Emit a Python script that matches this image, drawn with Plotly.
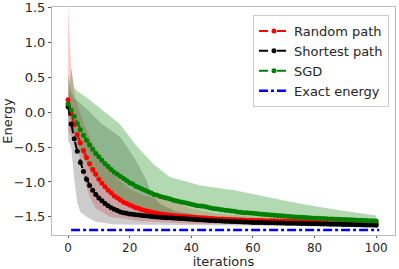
import plotly.graph_objects as go

iterations = list(range(0, 101))

random_path = [0.18, -0.02, -0.18, -0.32, -0.44, -0.55, -0.65, -0.74, -0.82, -0.89,
               -0.96, -1.02, -1.07, -1.12, -1.16, -1.20, -1.23, -1.26, -1.29, -1.31,
               -1.33, -1.35, -1.37, -1.38, -1.40, -1.41, -1.42, -1.43, -1.44, -1.45,
               -1.46, -1.465, -1.47, -1.475, -1.48, -1.485, -1.49, -1.493, -1.496, -1.50,
               -1.503, -1.506, -1.509, -1.512, -1.515, -1.518, -1.521, -1.524, -1.527, -1.53,
               -1.532, -1.534, -1.536, -1.538, -1.54, -1.542, -1.544, -1.546, -1.548, -1.55,
               -1.551, -1.552, -1.553, -1.554, -1.555, -1.556, -1.557, -1.558, -1.559, -1.56,
               -1.561, -1.562, -1.563, -1.564, -1.565, -1.567, -1.568, -1.569, -1.57, -1.571,
               -1.572, -1.573, -1.574, -1.575, -1.576, -1.577, -1.578, -1.579, -1.58, -1.581,
               -1.582, -1.583, -1.584, -1.585, -1.586, -1.587, -1.588, -1.589, -1.59, -1.59,
               -1.59]

shortest_path = [0.08, -0.17, -0.38, -0.56, -0.72, -0.85, -0.96, -1.05, -1.12, -1.18,
                 -1.23, -1.27, -1.31, -1.34, -1.37, -1.39, -1.41, -1.43, -1.44, -1.45,
                 -1.46, -1.465, -1.47, -1.475, -1.48, -1.485, -1.49, -1.495, -1.50, -1.503,
                 -1.506, -1.509, -1.512, -1.515, -1.518, -1.52, -1.523, -1.526, -1.529, -1.532,
                 -1.535, -1.538, -1.541, -1.544, -1.547, -1.55, -1.552, -1.554, -1.556, -1.558,
                 -1.56, -1.562, -1.564, -1.566, -1.568, -1.57, -1.572, -1.574, -1.576, -1.578,
                 -1.58, -1.581, -1.582, -1.583, -1.584, -1.585, -1.586, -1.587, -1.588, -1.589,
                 -1.59, -1.591, -1.592, -1.593, -1.594, -1.595, -1.596, -1.597, -1.598, -1.599,
                 -1.60, -1.601, -1.602, -1.603, -1.604, -1.605, -1.606, -1.607, -1.608, -1.609,
                 -1.61, -1.611, -1.612, -1.613, -1.614, -1.615, -1.616, -1.617, -1.618, -1.619,
                 -1.62]

sgd = [0.12, 0.03, -0.06, -0.16, -0.25, -0.33, -0.40, -0.47, -0.53, -0.59,
       -0.64, -0.69, -0.74, -0.78, -0.82, -0.86, -0.89, -0.92, -0.95, -0.98,
       -1.01, -1.03, -1.06, -1.08, -1.10, -1.12, -1.14, -1.16, -1.18, -1.19,
       -1.21, -1.22, -1.23, -1.24, -1.26, -1.27, -1.28, -1.29, -1.30, -1.31,
       -1.32, -1.33, -1.34, -1.345, -1.35, -1.36, -1.37, -1.38, -1.385, -1.39,
       -1.40, -1.405, -1.41, -1.415, -1.42, -1.43, -1.435, -1.44, -1.443, -1.446,
       -1.45, -1.454, -1.458, -1.462, -1.466, -1.47, -1.474, -1.478, -1.482, -1.486,
       -1.49, -1.493, -1.496, -1.499, -1.502, -1.505, -1.508, -1.511, -1.514, -1.517,
       -1.52, -1.522, -1.524, -1.526, -1.528, -1.53, -1.532, -1.534, -1.536, -1.538,
       -1.54, -1.542, -1.544, -1.546, -1.548, -1.55, -1.552, -1.554, -1.556, -1.558,
       -1.56]

exact_x = [1, 101]
exact_energy = [-1.69, -1.69]

# spread bands (upper / lower edges)
random_up_x = [0, 1, 2, 3, 5, 8, 12, 16, 20, 25, 32, 40, 48, 60, 80, 100]
random_up_y = [1.55, 0.65, 0.3, 0.1, -0.15, -0.45, -0.75, -0.95, -1.1, -1.2, -1.25, -1.38, -1.45, -1.5, -1.54, -1.56]
random_lo_x = [0, 1, 3.3, 5, 7, 9, 13.6, 23, 40, 100]
random_lo_y = [-0.25, -0.35, -0.55, -0.95, -1.21, -1.38, -1.5, -1.56, -1.6, -1.62]

shortest_up_x = [0, 1, 2, 6, 11, 17, 22, 25.5, 27, 30, 35, 45, 60, 100]
shortest_up_y = [0.55, 0.3, 0.2, 0.05, -0.17, -0.36, -0.69, -0.98, -1.17, -1.32, -1.42, -1.5, -1.55, -1.6]
shortest_lo_x = [0, 1, 2, 3, 4, 6, 9, 15, 100]
shortest_lo_y = [-0.40, -0.5, -0.95, -1.3, -1.43, -1.5, -1.57, -1.61, -1.64]

sgd_up_x = [0, 1, 2, 3, 6, 11.4, 16.8, 22.2, 27.6, 33, 38.5, 43, 54, 64.5, 75, 86, 100]
sgd_up_y = [0.12, 0.64, 0.35, 0.30, 0.21, 0.02, -0.17, -0.48, -0.74, -0.93, -1.0, -1.05, -1.12, -1.21, -1.31, -1.39, -1.48]
sgd_lo_x = [0, 1, 3, 5, 8, 12, 16, 20, 30, 45, 70, 100]
sgd_lo_y = [0.12, -0.2, -0.45, -0.65, -0.9, -1.1, -1.25, -1.33, -1.45, -1.53, -1.58, -1.6]

x_ticks = [0, 20, 40, 60, 80, 100]
y_ticks = [-1.5, -1.0, -0.5, 0.0, 0.5, 1.0, 1.5]
y_tick_text = ["−1.5", "−1.0", "−0.5", "0.0", "0.5", "1.0", "1.5"]

fig = go.Figure()

bands = [
    (random_up_x, random_up_y, random_lo_x, random_lo_y, "rgba(255,0,0,0.2)"),
    (shortest_up_x, shortest_up_y, shortest_lo_x, shortest_lo_y, "rgba(0,0,0,0.2)"),
    (sgd_up_x, sgd_up_y, sgd_lo_x, sgd_lo_y, "rgba(0,128,0,0.3)"),
]
for ux, uy, lx, ly, col in bands:
    fig.add_trace(go.Scatter(
        x=ux + lx[::-1], y=uy + ly[::-1], fill="toself", fillcolor=col,
        line=dict(width=0), mode="lines", showlegend=False, hoverinfo="skip"))

series = [
    ("Random path", random_path, "#ff0000"),
    ("Shortest path", shortest_path, "#000000"),
    ("SGD", sgd, "#008000"),
]
for name, vals, col in series:
    fig.add_trace(go.Scatter(
        x=iterations, y=vals, name=name, mode="lines+markers",
        line=dict(color=col, width=2, dash="dash"),
        marker=dict(color=col, size=5)))

fig.add_trace(go.Scatter(
    x=exact_x, y=exact_energy, name="Exact energy", mode="lines",
    line=dict(color="#0000ff", width=2.5, dash="dashdot")))

fig.update_layout(
    width=399, height=269,
    margin=dict(l=52, r=4, t=7, b=34, autoexpand=False),
    paper_bgcolor="white", plot_bgcolor="white",
    font=dict(family="DejaVu Sans", size=13, color="#262626"),
    legend=dict(x=0.9825, y=0.965, xanchor="right", yanchor="top",
                bgcolor="rgba(255,255,255,0.8)", bordercolor="#cccccc", borderwidth=1,
                font=dict(size=13), tracegroupgap=0, itemwidth=30),
    showlegend=True,
)
fig.update_xaxes(range=[-5.2, 106.1], tickvals=x_ticks, showgrid=False, zeroline=False,
                 showline=True, linecolor="#bbbbbb", mirror=True, ticks="outside",
                 ticklen=2, tickcolor="#555555", automargin=False,
                 tickfont=dict(size=12),
                 title=dict(text="iterations", standoff=0, font=dict(size=13)))
fig.update_yaxes(range=[-1.761, 1.51], tickvals=y_ticks, ticktext=y_tick_text,
                 showgrid=False, zeroline=False,
                 showline=True, linecolor="#bbbbbb", mirror=True, ticks="outside",
                 ticklen=3, tickcolor="#555555", automargin=False,
                 title=dict(text="Energy", standoff=0, font=dict(size=13)))

fig.write_html("out.html", config={"displayModeBar": False},
               post_script="document.body.style.margin='0';document.body.style.padding='0';")
